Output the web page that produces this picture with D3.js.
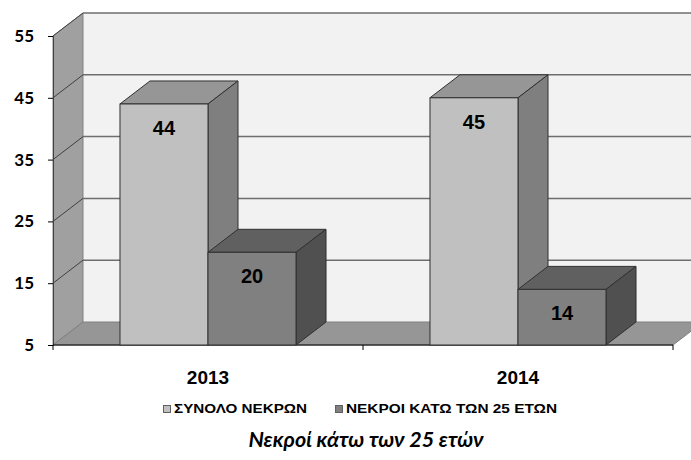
<!DOCTYPE html>
<html>
<head>
<meta charset="utf-8">
<script src="https://cdn.jsdelivr.net/npm/d3@7"></script>
<style>
  body { margin: 0; background: #fff; }
  text { font-family: "Liberation Sans", Arial, sans-serif; }
</style>
</head>
<body>
<div id="chart"></div>
<script>
// data
var years = ["2013", "2014"];
var seriesNames = ["ΣΥΝΟΛΟ ΝΕΚΡΩΝ", "ΝΕΚΡΟΙ ΚΑΤΩ ΤΩΝ 25 ΕΤΩΝ"];
var totalDeaths = [44, 45];
var under25 = [20, 14];
var yTicks = [5, 15, 25, 35, 45, 55];
var chartTitle = "Νεκροί κάτω των 25 ετών";

var width = 691, height = 460;
var plotLeft = 53, plotRight = 673, plotBottom = 345, plotTop = 36;
var dx = 30, dy = -23;   // depth of the 3d box

// colours per series: front, top, side
var colours = [
  { front: "#c0c0c0", top: "#969696", side: "#7f7f7f" },
  { front: "#808080", top: "#606060", side: "#505050" }
];

var svg = d3.select("#chart").append("svg")
  .attr("width", width)
  .attr("height", height);

var yScale = d3.scaleLinear().domain([5, 55]).range([plotBottom, plotTop]);
var xScale = d3.scaleBand().domain(years).range([plotLeft, plotRight]);
var sScale = d3.scaleBand().domain(seriesNames)
  .range([0, xScale.bandwidth()]).paddingOuter(0.761);

function pts(a) { return a.map(p => p.join(",")).join(" "); }

// back wall
svg.append("rect")
  .attr("x", plotLeft + dx).attr("y", plotTop + dy)
  .attr("width", width - plotLeft - dx + 5).attr("height", plotBottom - plotTop)
  .attr("fill", "#f2f2f2");

// left wall
svg.append("polygon")
  .attr("points", pts([[plotLeft, plotTop], [plotLeft + dx, plotTop + dy], [plotLeft + dx, plotBottom + dy], [plotLeft, plotBottom]]))
  .attr("fill", "#a0a0a0").attr("stroke", "#808080").attr("stroke-width", 1);

// floor
svg.append("polygon")
  .attr("points", pts([[plotLeft, plotBottom], [plotLeft + dx, plotBottom + dy], [plotRight + dx, plotBottom + dy], [plotRight, plotBottom]]))
  .attr("fill", "#969696").attr("stroke", "#808080").attr("stroke-width", 1);

// gridlines on walls
yTicks.slice(1).forEach(function(t) {
  var y = yScale(t);
  svg.append("line")
    .attr("x1", plotLeft + dx).attr("x2", width + 5)
    .attr("y1", y + dy).attr("y2", y + dy)
    .attr("stroke", "#6e6e6e").attr("stroke-width", 1.5);
  svg.append("line")
    .attr("x1", plotLeft).attr("x2", plotLeft + dx)
    .attr("y1", y).attr("y2", y + dy)
    .attr("stroke", "#404040").attr("stroke-width", 1);
});

// y axis
var yAxis = d3.axisLeft(yScale).tickValues(yTicks).tickSize(5).tickPadding(14);
var yG = svg.append("g").attr("transform", `translate(${plotLeft},0)`).call(yAxis);
yG.select(".domain").attr("stroke", "#404040");
yG.selectAll(".tick line").attr("stroke", "#000");
yG.selectAll("text")
  .style("font-family", "Lato, sans-serif")
  .style("font-weight", "bold")
  .style("font-size", "17px")
  .attr("fill", "#000");

// x axis (ticks at band edges, labels in middle)
var xEdges = [plotLeft].concat(years.map(y => xScale(y) + xScale.bandwidth()));
svg.append("line")
  .attr("x1", plotLeft).attr("x2", plotRight).attr("y1", plotBottom).attr("y2", plotBottom)
  .attr("stroke", "#000");
xEdges.forEach(function(x) {
  svg.append("line").attr("x1", x).attr("x2", x)
    .attr("y1", plotBottom).attr("y2", plotBottom + 5).attr("stroke", "#000");
});
svg.selectAll(".xlabel").data(years).enter().append("text")
  .attr("class", "xlabel")
  .attr("x", d => xScale(d) + xScale.bandwidth() / 2)
  .attr("y", 384)
  .attr("text-anchor", "middle")
  .style("font-weight", "bold")
  .style("font-size", "19px")
  .text(d => d);

// 3d bars
var rows = [];
years.forEach(function(yr, i) {
  rows.push({ year: yr, s: 0, value: totalDeaths[i] });
  rows.push({ year: yr, s: 1, value: under25[i] });
});

rows.forEach(function(d) {
  var x0 = xScale(d.year) + sScale(seriesNames[d.s]);
  var x1 = x0 + sScale.bandwidth();
  var y0 = yScale(d.value);
  var g = svg.append("g");
  var c = colours[d.s];
  g.append("polygon")
    .attr("points", pts([[x0, y0], [x0 + dx, y0 + dy], [x1 + dx, y0 + dy], [x1, y0]]))
    .attr("fill", c.top).attr("stroke", "#303030").attr("stroke-width", 1);
  g.append("polygon")
    .attr("points", pts([[x1, y0], [x1 + dx, y0 + dy], [x1 + dx, plotBottom + dy], [x1, plotBottom]]))
    .attr("fill", c.side).attr("stroke", "#303030").attr("stroke-width", 1);
  g.append("rect")
    .attr("x", x0).attr("y", y0)
    .attr("width", x1 - x0).attr("height", plotBottom - y0)
    .attr("fill", c.front).attr("stroke", "#303030").attr("stroke-width", 1);
  g.append("text")
    .attr("x", (x0 + x1) / 2)
    .attr("y", y0 + 31)
    .attr("text-anchor", "middle")
    .style("font-weight", "bold")
    .style("font-size", "20px")
    .text(d.value);
});

// legend
var legendX = [163, 335];
var legendW = [133, 211];
seriesNames.forEach(function(name, i) {
  svg.append("rect")
    .attr("x", legendX[i] + 0.5).attr("y", 405.5)
    .attr("width", 7).attr("height", 7)
    .attr("fill", colours[i].front).attr("stroke", "#606060");
  svg.append("text")
    .attr("x", legendX[i] + 11).attr("y", 413)
    .attr("textLength", legendW[i])
    .attr("lengthAdjust", "spacingAndGlyphs")
    .style("font-weight", "bold")
    .style("font-size", "13px")
    .text(name);
});

// title
svg.append("text")
  .attr("x", 366).attr("y", 447)
  .attr("text-anchor", "middle")
  .style("font-family", "Lato, sans-serif")
  .style("font-weight", "bold")
  .style("font-style", "italic")
  .style("font-size", "21.5px")
  .text(chartTitle);
</script>
</body>
</html>
